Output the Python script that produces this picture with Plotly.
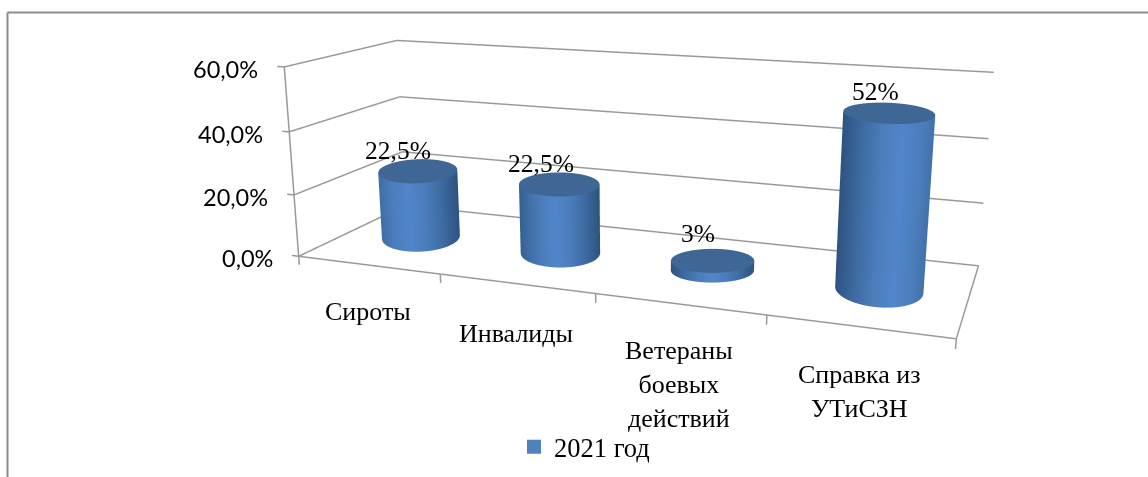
import numpy as np
import plotly.graph_objects as go

categories = ["Сироты", "Инвалиды", "Ветераны<br>боевых<br>действий", "Справка из<br>УТиСЗН"]
values = [22.5, 22.5, 3, 52]
value_labels = ["22,5%", "22,5%", "3%", "52%"]
z_ticks = [0, 20, 40, 60]
z_tick_labels = ["0,0%", "20,0%", "40,0%", "60,0%"]
series_name = "2021 год"
category_ticks = [0, 1, 2, 3, 4]

# look of each cylinder on screen (half width, half height, tilt of the ellipse, brightest spot)
bar_half_w = [39.5, 40.3, 41.7, 46.0]
bar_half_h = [12.0, 12.0, 12.0, 10.5]
bar_tilt = [-1.5, 0.0, 0.0, 2.0]
bar_bright = [-0.25, -0.1, 0.0, 0.3]
label_dx = [-20, -18, -15, -13]
label_dy = [20, 21, 27, 21]
category_dy = [-47, -50, -80, -65]

# camera that reproduces the reference's perspective (long lens: paper taller than the window)
H = 1000; W = 1148
E0 = np.array([0.6158, -1.6639, 0.4263]); C0 = np.array([-21.4708, 58.5308, -16.9412])
U0 = np.array([-15.9411, 43.4047, 1.0])
AY, AZ = 0.3202, 0.2972; cx, cy = 638.0, 202.0
F = H/2/np.tan(np.pi/8)

XR = [-0.2, 4.05]; YR = [-0.02, 1.02]; ZR = [-4.0, 62.0]
top = H/2 - cy
shift = np.array([(sum(XR)/2)/4 - .5, (sum(YR)/2 - .5)*AY, ((sum(ZR)/2)/60 - .5)*AZ])
E = E0 - shift
d = C0 - E0; d = d/np.linalg.norm(d)
r = np.cross(d, U0); r = r/np.linalg.norm(r); up = np.cross(r, d)
C = E + d*np.linalg.norm(E)
domx = [0, 2*cx/W] if cx < W/2 else [(2*cx-W)/W, 1]

def screen(x, y, z):
    w = np.array([x/4-.5, (y-.5)*AY, (z/60-.5)*AZ]) - E0
    return np.array([F*(w@r)/(w@d), -F*(w@up)/(w@d)])

fig = go.Figure()
LINE = dict(color="#999999", width=3)
def ln(x, y, z):
    fig.add_trace(go.Scatter3d(x=x, y=y, z=z, mode="lines", line=LINE, showlegend=False, hoverinfo="skip"))
for t in z_ticks:
    ln([-0.05, 0, 0, 4], [0, 0, 1, 1], [t, t, t, t])
ln([0, 0], [0, 0], [0, 60])
ln([0, 4, 4], [0, 0, 1], [0, 0, 0])
for c in category_ticks:
    ln([c, c], [0, 0], [0, -2.8])

th = np.linspace(0, 2*np.pi, 97)
cs = [[0, "#5286cb"], [.33, "#4b7dbb"], [.66, "#3d6aa0"], [1, "#2d5280"]]
flat = dict(ambient=1, diffuse=0, specular=0, fresnel=0)
for i, v in enumerate(values):
    x0, y0 = i + .5, .5
    s0 = screen(x0, y0, v)
    J = np.c_[(screen(x0+.01, y0, v)-s0)/.01, (screen(x0, y0+.01, v)-s0)/.01]
    maj = np.linalg.solve(J, [bar_half_w[i], bar_tilt[i]])
    mnr = np.linalg.solve(J, [0, bar_half_h[i]])
    X = x0 + maj[0]*np.cos(th) + mnr[0]*np.sin(th)
    Y = y0 + maj[1]*np.cos(th) + mnr[1]*np.sin(th)
    u0 = bar_bright[i]
    a = np.clip(np.abs(np.cos(th)-u0)/(1+abs(u0)), 0, 1)
    a = np.where(np.sin(th) > 0, a, 1)
    fig.add_trace(go.Surface(x=np.array([X, X]), y=np.array([Y, Y]), z=np.array([0*th, 0*th + v]),
        surfacecolor=np.array([a, a]), colorscale=cs, cmin=0, cmax=1, showscale=False, lighting=flat, hoverinfo="skip"))
    fig.add_trace(go.Surface(x=np.array([0*th + x0, X]), y=np.array([0*th + y0, Y]), z=np.array([0*th + v, 0*th + v]),
        surfacecolor=np.zeros((2, 97)), colorscale=[[0, "#3e6795"], [1, "#3e6795"]], showscale=False, lighting=flat, hoverinfo="skip"))
fig.add_trace(go.Scatter3d(x=[None], y=[None], z=[None], mode="markers", name=series_name,
    marker=dict(symbol="square", size=14, color="#4f81bd")))

SERIF = dict(family="Liberation Serif", size=25.5, color="black")
CAT = dict(family="Liberation Serif", size=26, color="black")
SANS = dict(family="Lato", size=23.5, color="black")
ann = []
for t, s in zip(z_ticks, z_tick_labels):
    ann.append(dict(x=0, y=0, z=t, text=s, showarrow=False, xanchor="right", yanchor="middle", xshift=-24, yshift=-2, font=SANS))
for i, (v, s) in enumerate(zip(values, value_labels)):
    ann.append(dict(x=i+.5, y=.5, z=v, text=s, showarrow=False, xanchor="center", yanchor="middle", xshift=label_dx[i], yshift=label_dy[i], font=SERIF))
for i, (s, dy) in enumerate(zip(categories, category_dy)):
    ann.append(dict(x=i+.5, y=0, z=0, text=s, showarrow=False, xanchor="center", yanchor="middle", yshift=dy, font=CAT))

ax = dict(visible=False, showgrid=False, zeroline=False, showbackground=False)
def py(px): return 1 - (px+top)/H
FR = dict(color="#8c8c8c", width=2)
fig.update_layout(width=W, height=H, margin=dict(l=0, r=0, t=0, b=0), paper_bgcolor="white",
  scene=dict(domain=dict(x=domx, y=[0, 1]),
    xaxis=dict(ax, range=XR), yaxis=dict(ax, range=YR), zaxis=dict(ax, range=ZR),
    aspectmode="manual", aspectratio=dict(x=(XR[1]-XR[0])/4, y=AY*(YR[1]-YR[0]), z=AZ*(ZR[1]-ZR[0])/60),
    camera=dict(eye=dict(x=E[0], y=E[1], z=E[2]), center=dict(x=C[0], y=C[1], z=C[2]), up=dict(x=up[0], y=up[1], z=up[2]), projection=dict(type="perspective")),
    annotations=ann),
  showlegend=True,
  legend=dict(x=(528-14)/W, y=py(447), xanchor="left", yanchor="middle", font=dict(family="Liberation Serif", size=26.5, color="black"), bgcolor="rgba(0,0,0,0)"),
  shapes=[dict(type="line", xref="paper", yref="paper", x0=7.5/W, x1=1, y0=py(12.5), y1=py(12.5), line=FR),
          dict(type="line", xref="paper", yref="paper", x0=7.5/W, x1=7.5/W, y0=py(12.5), y1=py(477), line=FR)])
post = ("document.documentElement.style.overflow='hidden';document.body.style.overflow='hidden';"
        "document.body.style.margin='0';document.querySelector('.plotly-graph-div').style.marginTop='%dpx';" % (-round(top)))
fig.write_html("out.html", post_script=post)
